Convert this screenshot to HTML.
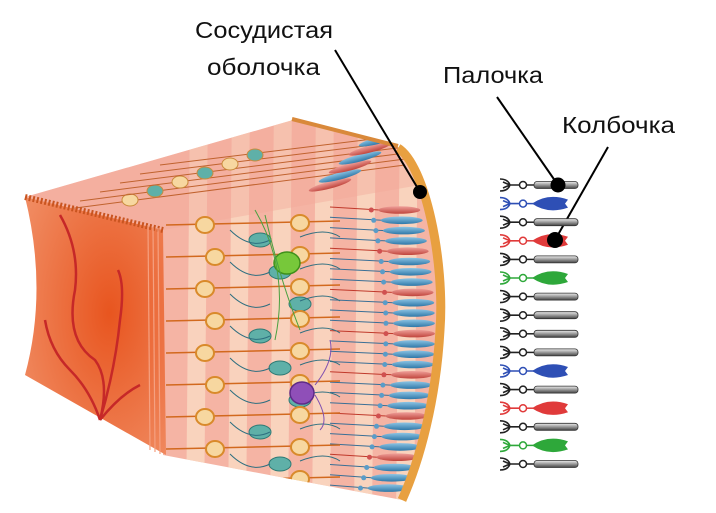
<!DOCTYPE html>
<html><head><meta charset="utf-8">
<style>
html,body{margin:0;padding:0;background:#fff;}
svg{display:block;}
text{font-family:"Liberation Sans",sans-serif;font-size:23px;fill:#111;}
</style></head>
<body>
<svg id="s" width="716" height="513" viewBox="0 0 716 513" xmlns="http://www.w3.org/2000/svg">
<defs>
<radialGradient id="fg" cx="0.6" cy="0.45" r="0.7">
<stop offset="0" stop-color="#e8551f"/><stop offset="1" stop-color="#f08a60"/>
</radialGradient>
<linearGradient id="rod" x1="0" y1="0" x2="0" y2="1">
<stop offset="0" stop-color="#eee"/><stop offset="0.5" stop-color="#999"/><stop offset="1" stop-color="#444"/>
</linearGradient>
<linearGradient id="bl" x1="0" y1="0" x2="0" y2="1">
<stop offset="0" stop-color="#8cc4e4"/><stop offset="1" stop-color="#2f78a8"/>
</linearGradient>
<linearGradient id="rd" x1="0" y1="0" x2="0" y2="1">
<stop offset="0" stop-color="#efa09a"/><stop offset="1" stop-color="#c0443c"/>
</linearGradient>
<clipPath id="bc"><path d="M25,197 L293,120 L400,148 C425,165 445,260 440,330 C436,400 420,460 402,500 L163,455 L163,230 Z"/></clipPath>
</defs>
<path d="M25,197 L293,120 L400,148 C425,165 445,260 440,330 C436,400 420,460 402,500 L163,455 L163,230 Z" fill="#f5b4a4"/>
<g clip-path="url(#bc)">
<g id="stripes" opacity="0.7"></g>
<polygon points="25,197 293,120 400,148 420,185 163,230" fill="#f3a898" opacity="0.4"/>
<g id="rows"></g>
</g>
<path d="M398,148 C425,165 445,260 440,330 C436,400 420,460 402,500" fill="none" stroke="#e8a040" stroke-width="9"/>
<path d="M292,119 L398,146" stroke="#d9893a" stroke-width="4" fill="none"/>
<path d="M25,197 L163,230 L166,455 L25,375 Q48,290 25,197 Z" fill="url(#fg)"/>
<path d="M25,197 L163,230" stroke="#c9541f" stroke-width="6" stroke-dasharray="2 2"/>
<g stroke="#f5a080" stroke-width="1.2" fill="none">
<path d="M148,225 L150,450"/><path d="M153,227 L155,452"/><path d="M158,228 L160,454"/>
</g>
<g stroke="#c62828" stroke-width="2.5" fill="none">
<path d="M60,215 Q80,250 75,290 Q65,340 95,360 Q110,380 100,420"/>
<path d="M100,420 Q90,390 70,370 Q50,350 45,320"/>
<path d="M100,420 Q115,370 120,320 Q125,285 118,270"/>
<path d="M100,420 Q120,395 140,385"/>
</g>
<g stroke="#000" stroke-width="2">
<line x1="335" y1="50" x2="420" y2="192"/>
<line x1="497" y1="97" x2="558" y2="185"/>
<line x1="608" y1="147" x2="555" y2="240"/>
</g>
<circle cx="420" cy="192" r="7" fill="#000"/>
<g id="col"></g>
<circle cx="558" cy="185" r="7.5" fill="#000"/>
<circle cx="555" cy="240" r="8" fill="#000"/>
<text x="195" y="38" textLength="138" lengthAdjust="spacingAndGlyphs">Сосудистая</text>
<text x="207" y="75" textLength="113" lengthAdjust="spacingAndGlyphs">оболочка</text>
<text x="443" y="83" textLength="100" lengthAdjust="spacingAndGlyphs">Палочка</text>
<text x="562" y="133" textLength="113" lengthAdjust="spacingAndGlyphs">Колбочка</text>
</svg>
<script>
var NS="http://www.w3.org/2000/svg";
function el(p,t,a){var e=document.createElementNS(NS,t);for(var k in a)e.setAttribute(k,a[k]);p.appendChild(e);return e;}
var st=document.getElementById('stripes');
for(var i=0;i<6;i++){var x=190+i*42;el(st,'polygon',{points:(x)+",100 "+(x+18)+",100 "+(x+14)+",520 "+(x-4)+",520",fill:"#fbe0c8"});}
var rows=document.getElementById('rows');
function ax(y){return 440-((y-330)*(y-330))/980;}
for(var i=0;i<28;i++){
 var y=210+i*10.3; var xe=ax(y)-6; var red=(i%4==0);
 el(rows,'line',{x1:330,y1:y-3,x2:xe-40,y2:y,stroke:red?"#c0392b":"#3a6f96","stroke-width":1});
 el(rows,'circle',{cx:xe-48,cy:y,r:2.5,fill:red?"#d05050":"#5a9cc8"});
 el(rows,'ellipse',{cx:xe-20,cy:y,rx:21,ry:3.8,fill:red?"url(#rd)":"url(#bl)"});
}
for(var j=0;j<9;j++){
 var y=225+j*32;
 el(rows,'line',{x1:166,y1:y,x2:340,y2:y-4,stroke:"#d2691e","stroke-width":1.5});
 el(rows,'ellipse',{cx:205+(j%2)*10,cy:y,rx:9,ry:8,fill:"#f7d7a0",stroke:"#d98a2b","stroke-width":2});
 el(rows,'ellipse',{cx:300,cy:y-2,rx:9,ry:8,fill:"#f7d7a0",stroke:"#d98a2b","stroke-width":2});
 el(rows,'ellipse',{cx:260+(j%3)*20,cy:y+15,rx:11,ry:7,fill:"#5fb0a8",stroke:"#2f7a75","stroke-width":1});
 el(rows,'path',{d:"M230,"+(y+5)+" q20,20 40,10 M300,"+(y+12)+" q25,-10 40,0",stroke:"#2e6f80","stroke-width":1,fill:"none"});
}
for(var k=0;k<6;k++){
 var y0=205-k*9;
 el(rows,'line',{x1:60+k*20,y1:y0+5,x2:405,y2:y0-40+k*3,stroke:"#c0622e","stroke-width":1});
 el(rows,'ellipse',{cx:330+k*10,cy:y0-20,rx:22,ry:3.5,fill:k%2?"url(#bl)":"url(#rd)",transform:"rotate(-15 "+(330+k*10)+" "+(y0-20)+")"});
 el(rows,'ellipse',{cx:130+k*25,cy:y0-5,rx:8,ry:6,fill:k%2?"#5fb0a8":"#f7d7a0",stroke:"#c98a3b"});
}
el(rows,'ellipse',{cx:287,cy:263,rx:13,ry:11,fill:"#77c83a",stroke:"#3f8f1a","stroke-width":1.5});
el(rows,'path',{d:"M255,210 Q290,270 275,340 M265,215 Q280,280 300,330",stroke:"#4aa040",fill:"none"});
el(rows,'ellipse',{cx:302,cy:393,rx:12,ry:11,fill:"#8f4fb8",stroke:"#5e2a88","stroke-width":1.5});
el(rows,'path',{d:"M315,385 Q335,360 330,340 M315,395 Q330,420 320,430",stroke:"#8050b0",fill:"none"});
var col=document.getElementById('col');
var types="rbrdrgrrrrbrdrgr";
for(var i=0;i<16;i++){
 var y=185+i*18.6; var t=types[i];
 var c=t=='b'?"#2e4fb5":t=='d'?"#e03a3a":t=='g'?"#2ea83a":"#222";
 el(col,'path',{d:"M500,"+(y-6)+" q8,0 10,6 q-2,6 -10,6 M503,"+(y-3)+" l7,3 l-7,3 M510,"+y+" L520,"+y,stroke:c,"stroke-width":1.6,fill:"none"});
 el(col,'circle',{cx:523,cy:y,r:3.5,fill:"#fff",stroke:c,"stroke-width":1.5});
 el(col,'line',{x1:527,y1:y,x2:534,y2:y,stroke:c,"stroke-width":1.5});
 if(t=='r') el(col,'rect',{x:534,y:y-3.5,width:44,height:7,rx:3,fill:"url(#rod)",stroke:"#333","stroke-width":0.8});
 else el(col,'path',{d:"M532,"+y+" Q548,"+(y-11)+" 568,"+(y-4)+" L565,"+y+" L568,"+(y+4)+" Q548,"+(y+11)+" 532,"+y+"Z",fill:c});
}
</script>
</body></html>
